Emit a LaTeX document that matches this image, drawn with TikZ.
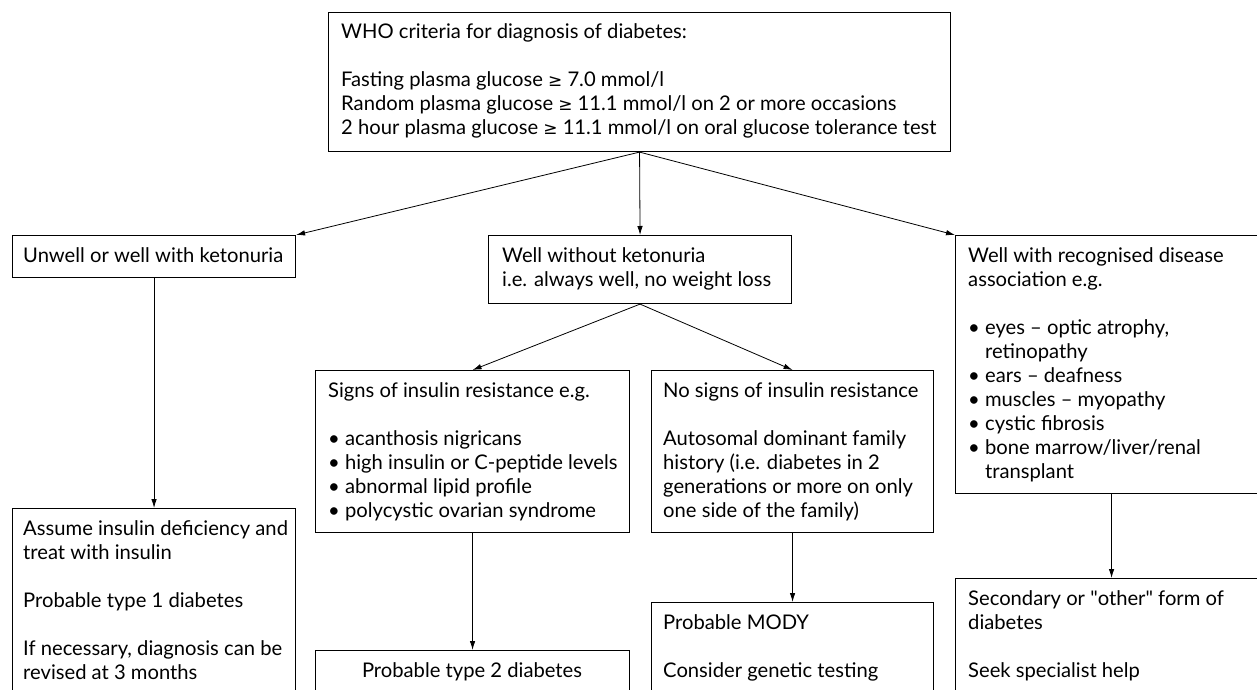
\documentclass[tikz,border=0pt]{standalone}
\usepackage{fontspec}
\setmainfont{Lato}
\newfontfamily\symfnt{DejaVu Sans}
\newcommand{\geqsym}{{\symfnt\fontsize{17}{24}\selectfont ≥}}
\newcommand{\bul}{\textbullet\ }
\newcommand{\hang}{\phantom{\textbullet\ }}
\usetikzlibrary{arrows.meta}
\begin{document}
\begin{tikzpicture}[x=1pt,y=-1pt,
  box/.style={draw=black, line width=1.1pt, rectangle, inner sep=0pt, anchor=north west},
  txt/.style={anchor=north west, inner sep=0pt, align=left, font=\fontsize{20.2}{24}\selectfont},
  arr/.style={-{Latex[length=9pt,width=5.5pt]}, line width=0.8pt}]
\useasboundingbox (0,0) rectangle (1257,690);
\clip (0,0) rectangle (1257,690);
\fill[white] (0,0) rectangle (1257,690);

% boxes
\node[box, minimum width=622pt, minimum height=139pt] (top) at (328,12) {};
\node[box, minimum width=283pt, minimum height=42pt] (unwell) at (12,235) {};
\node[box, minimum width=303pt, minimum height=68pt] (wwo) at (488,235) {};
\node[box, minimum width=312pt, minimum height=258pt] (assoc) at (955,235) {};
\node[box, minimum width=314pt, minimum height=162pt] (signs) at (315,370) {};
\node[box, minimum width=282pt, minimum height=162pt] (nosigns) at (651,370) {};
\node[box, minimum width=283pt, minimum height=200pt] (assume) at (12,508) {};
\node[box, minimum width=314pt, minimum height=60pt] (type2) at (315,650) {};
\node[box, minimum width=282pt, minimum height=100pt] (mody) at (651,602) {};
\node[box, minimum width=312pt, minimum height=130pt] (second) at (955,578) {};

% texts
\node[txt] (toptxt) at (341,21.7) {\strut WHO criteria for diagnosis of diabetes:\\[24pt]
Fasting plasma glucose \geqsym\ 7.0 mmol/l\\
Random plasma glucose \geqsym\ 11.1 mmol/l on 2 or more occasions\\
2 hour plasma glucose \geqsym\ 11.1 mmol/l on oral glucose tolerance test};
\node[txt] (unwelltxt) at (23,245.7) {\strut Unwell or well with ketonuria};
\node[txt] (wwotxt) at (502,245.7) {\strut Well without ketonuria\\ i.e. always well, no weight loss};
\node[txt] (assoctxt) at (968,245.7) {\strut Well with recognised disease\\ association e.g.\\[24pt]
\bul eyes -- optic atrophy,\\ \hang retinopathy\\ \bul ears -- deafness\\ \bul muscles -- myopathy\\
\bul cystic fibrosis\\ \bul bone marrow/liver/renal\\ \hang transplant};
\node[txt] (signstxt) at (328,380.7) {\strut Signs of insulin resistance e.g.\\[24pt]
\bul acanthosis nigricans\\ \bul high insulin or C-peptide levels\\ \bul abnormal lipid profile\\ \bul polycystic ovarian syndrome};
\node[txt] (nosignstxt) at (663,380.7) {\strut No signs of insulin resistance\\[24pt]
Autosomal dominant family\\ history (i.e. diabetes in 2\\ generations or more on only\\ one side of the family)};
\node[txt] (assumetxt) at (23,518.7) {\strut Assume insulin deficiency and\\ treat with insulin\\[24pt]
Probable type 1 diabetes\\[24pt] If necessary, diagnosis can be\\ revised at 3 months};
\node[txt, anchor=north, align=center] (type2txt) at (472,660.7) {\strut Probable type 2 diabetes};
\node[txt] (modytxt) at (663,612.7) {\strut Probable MODY\\[24pt] Consider genetic testing};
\node[txt] (secondtxt) at (968,588.7) {\strut Secondary or \textquotedbl other\textquotedbl\ form of\\ diabetes\\[24pt] Seek specialist help};

% connectors
\draw[arr] (top.south) -- (unwell.north east);
\draw[arr] (top.south) -- (wwo.north);
\draw[arr] (top.south) -- (assoc.north west);
\draw[arr] (unwell.south) -- (assume.north);
\draw[arr] (wwo.south) -- (signs.north);
\draw[arr] (wwo.south) -- (nosigns.north);
\draw[arr] (signs.south) -- (type2.north);
\draw[arr] (nosigns.south) -- (mody.north);
\draw[arr] (assoc.south) -- (second.north);
\end{tikzpicture}
\end{document}
